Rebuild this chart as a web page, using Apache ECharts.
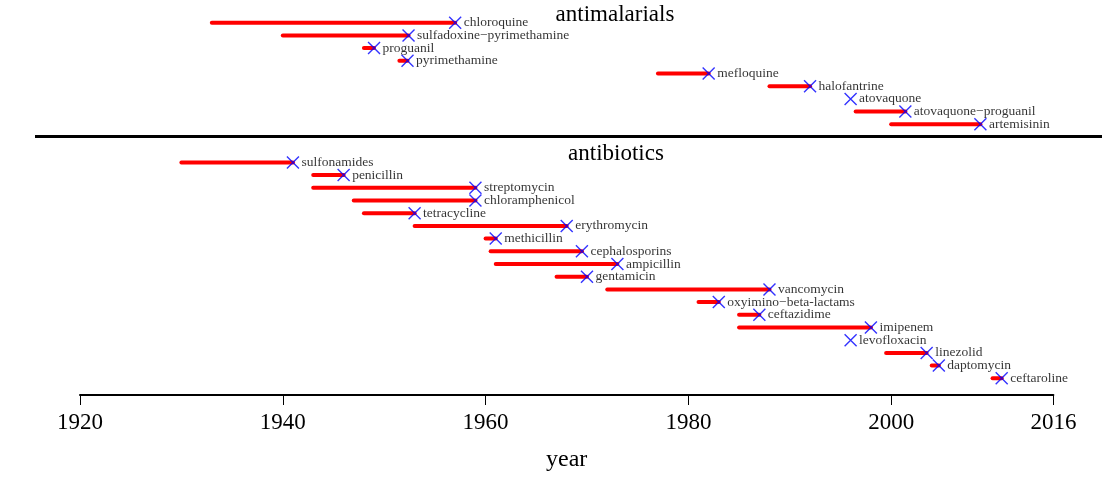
<!DOCTYPE html>
<html>
<head>
<meta charset="utf-8">
<script src="https://cdn.jsdelivr.net/npm/echarts@6/dist/echarts.min.js"></script>
<style>
html,body{margin:0;padding:0;background:#fff;}
#chart{width:1102px;height:479px;}
</style>
</head>
<body>
<div id="chart"></div>
<script>
// ---- data ----
const antimalarialNames = ['chloroquine','sulfadoxine\u2212pyrimethamine','proguanil','pyrimethamine','mefloquine','halofantrine','atovaquone','atovaquone\u2212proguanil','artemisinin'];
const antimalarialIntro = [1933, 1940, 1948, 1951.5, 1977, 1988, 1996, 1996.5, 2000];
const antimalarialResist = [1957, 1952.4, 1949, 1952.3, 1982, 1992, 1996, 2001.4, 2008.8];

const antibioticNames = ['sulfonamides','penicillin','streptomycin','chloramphenicol','tetracycline','erythromycin','methicillin','cephalosporins','ampicillin','gentamicin','vancomycin','oxyimino\u2212beta-lactams','ceftazidime','imipenem','levofloxacin','linezolid','daptomycin','ceftaroline'];
const antibioticIntro = [1930, 1943, 1943, 1947, 1948, 1953, 1960, 1960.5, 1961, 1967, 1972, 1981, 1985, 1985, 1996, 1999.5, 2004, 2010];
const antibioticResist = [1941, 1946, 1959, 1959, 1953, 1968, 1961, 1969.5, 1973, 1970, 1988, 1983, 1987, 1998, 1996, 2003.5, 2004.7, 2010.9];

const tickYears = [1920, 1940, 1960, 1980, 2000, 2016];
const groupTitles = ['antimalarials', 'antibiotics'];

// ---- build rows (antibiotics start after two blank rows) ----
const rows = [];
antimalarialNames.forEach((n, i) => rows.push([antimalarialIntro[i], antimalarialResist[i], i, n]));
const abStart = antimalarialNames.length + 2;
antibioticNames.forEach((n, i) => rows.push([antibioticIntro[i], antibioticResist[i], abStart + i, n]));

const FONT = '"Liberation Serif", "DejaVu Serif", serif';
const chart = echarts.init(document.getElementById('chart'), null, {renderer: 'canvas'});

const option = {
  animation: false,
  backgroundColor: '#fff',
  grid: {left: 80, right: 48.6, top: 10, height: 381, containLabel: false},
  xAxis: {
    type: 'value', min: 1920, max: 2016,
    position: 'bottom',
    offset: 4,
    splitLine: {show: false},
    axisLine: {show: true, onZero: false, lineStyle: {color: '#000', width: 2}},
    axisTick: {show: true, length: 10, lineStyle: {color: '#000', width: 1}, customValues: tickYears},
    axisLabel: {show: true, color: '#000', fontFamily: FONT, fontSize: 23, margin: 16, customValues: tickYears, formatter: v => String(v)},
    name: 'year', nameLocation: 'middle', nameGap: 53,
    nameTextStyle: {color: '#000', fontFamily: FONT, fontSize: 24}
  },
  yAxis: {
    type: 'value', min: -1, max: 29, inverse: true, show: false
  },
  graphic: [
    {type: 'line', shape: {x1: 35, y1: 136.5, x2: 1102, y2: 136.5}, style: {stroke: '#000', lineWidth: 3}},
    {type: 'text', x: 615, y: 15, style: {text: groupTitles[0], fill: '#000', font: '23px ' + FONT, textAlign: 'center', textVerticalAlign: 'middle'}},
    {type: 'text', x: 616, y: 154, style: {text: groupTitles[1], fill: '#000', font: '23px ' + FONT, textAlign: 'center', textVerticalAlign: 'middle'}}
  ],
  series: [
    {
      type: 'custom',
      data: rows,
      encode: {x: [0, 1], y: 2},
      renderItem: function (params, api) {
        const p1 = api.coord([api.value(0), api.value(2)]);
        const p2 = api.coord([api.value(1), api.value(2)]);
        return {
          type: 'line',
          shape: {x1: p1[0], y1: p1[1], x2: p2[0], y2: p2[1]},
          style: {stroke: '#ff0000', lineWidth: 4, lineCap: 'round'}
        };
      },
      z: 2
    },
    {
      type: 'scatter',
      data: rows.map(r => ({value: [r[1], r[2]], name: r[3]})),
      symbol: 'path://M0,0L10,10M10,0L0,10',
      symbolSize: 12,
      itemStyle: {color: 'none', borderColor: '#0000ff', borderWidth: 1.4},
      label: {
        show: true, position: 'right', distance: 0,
        formatter: p => p.name,
        color: '#000', fontFamily: FONT, fontSize: 13.5
      },
      z: 3
    }
  ]
};
chart.setOption(option);
</script>
</body>
</html>
